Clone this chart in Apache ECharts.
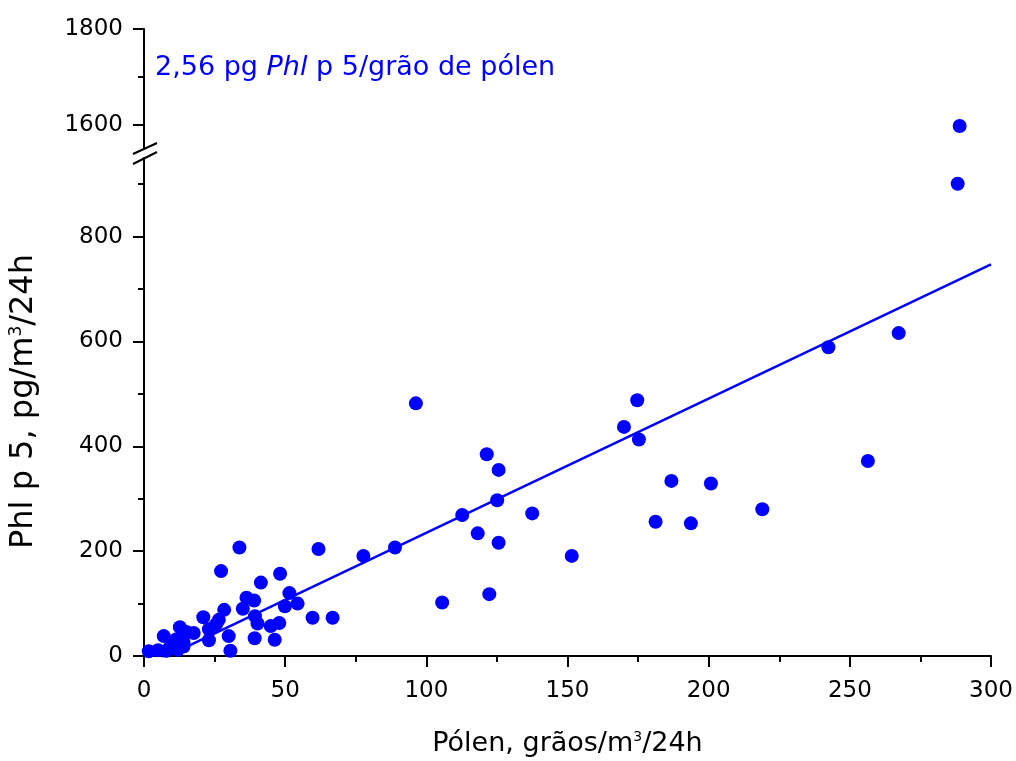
<!DOCTYPE html>
<html>
<head>
<meta charset="utf-8">
<title>Phl p 5 / pólen</title>
<script src="https://cdn.jsdelivr.net/npm/echarts@6.0.0/dist/echarts.min.js"></script>
<style>
html, body { margin: 0; padding: 0; background: #fff; }
#main { width: 1016px; height: 761px; }
</style>
</head>
<body>
<div id="main"></div>
<script>
// valores: pólen (grãos/m3/24h) e Phl p 5 (pg/m3/24h)
var polen = [1.7, 5, 8, 9, 12, 14, 10, 11.5, 14, 7,
    12.7, 15, 17.6, 21, 23, 23, 25.5, 26.5, 28.4, 30,
    30.6, 35, 36.3, 39, 39.3, 40.2, 41.4, 44.9, 47.9, 39.2,
    46.3, 48.2, 49.9, 51.5, 54.4, 59.7, 66.8, 33.8, 27.3, 61.8,
    77.7, 88.9, 96.3, 105.6, 112.7, 118.2, 121.4, 122.3, 125.1, 125.6,
    125.6, 137.5, 151.5, 170, 174.7, 175.3, 181.2, 186.8, 193.7, 200.8,
    219, 242.4, 256.4, 267.3, 288.2, 288.9];
var phl = [9, 11, 10, 15, 12, 18, 24, 32, 27, 38,
    55, 46, 44, 74, 51, 30, 60, 69, 88, 38,
    10, 90, 111, 106, 76, 62, 140, 57, 63, 34,
    31, 157, 95, 120, 100, 73, 73, 207, 162, 204,
    191, 207, 482, 102, 269, 234, 385, 118, 297, 355,
    216, 272, 191, 437, 488, 413, 256, 334, 253, 329,
    280, 589, 372, 616, 901, 1598];

// recta de regressão
var fitSlope = 2.56;
var fitIntercept = -21;
var fitX = [0, 300];

// eixos
var xRange = [0, 300];
var xStep = 50;
var yBreak = [950, 1550];        // corte do eixo y
var yTop = 1800;
var yTicksLow = [0, 200, 400, 600, 800];
var yMinorLow = [100, 300, 500, 700, 900];
var yTicksHigh = [1600, 1800];
var yMinorHigh = [1700];

// separar os pontos pelas duas partes do eixo
var lowPts = [], highPts = [];
for (var i = 0; i < polen.length; i++) {
    if (phl[i] > yBreak[0]) highPts.push([polen[i], phl[i]]);
    else lowPts.push([polen[i], phl[i]]);
}
var fitLine = fitX.map(function (x) { return [x, fitSlope * x + fitIntercept]; });

var blue = '#0000ff';
var black = '#000000';
var font = 'DejaVu Sans';
var tickLine = { color: black, width: 2 };

function mainY(grid, min, max, ticks, extra) {
    var ax = {
        type: 'value', gridIndex: grid, position: 'left', min: min, max: max,
        axisLine: { show: true, lineStyle: { color: black, width: 2 } },
        axisTick: { show: true, customValues: ticks, length: 11, lineStyle: tickLine },
        axisLabel: {
            show: true, customValues: ticks, margin: 21, color: black, fontSize: 23, fontFamily: font,
            formatter: function (v) { return String(v); }
        },
        splitLine: { show: false }
    };
    for (var k in extra) ax[k] = extra[k];
    return ax;
}
function minorY(grid, min, max, ticks) {
    return {
        type: 'value', gridIndex: grid, position: 'left', min: min, max: max,
        axisLine: { show: false },
        axisTick: { show: true, customValues: ticks, length: 6, lineStyle: tickLine },
        axisLabel: { show: false },
        splitLine: { show: false }
    };
}

var myChart = echarts.init(document.getElementById('main'));
var option = {
    backgroundColor: '#ffffff',
    animation: false,
    title: {
        left: 155, top: 54, padding: 0,
        text: '{n|2,56 pg }{i|Phl}{n| p 5/grão de pólen}',
        textStyle: {
            fontWeight: 'normal',
            rich: {
                n: { color: blue, fontSize: 27, fontFamily: font, fontWeight: 'normal' },
                i: { color: blue, fontSize: 27, fontFamily: font, fontWeight: 'normal', fontStyle: 'italic' }
            }
        }
    },
    grid: [
        { left: 144, right: 25, top: 29, height: 120, containLabel: false, outerBoundsMode: 'none' },
        { left: 144, right: 25, top: 158, bottom: 105, containLabel: false, outerBoundsMode: 'none' }
    ],
    xAxis: [
        { type: 'value', gridIndex: 0, min: xRange[0], max: xRange[1], interval: xStep, show: false },
        {
            type: 'value', gridIndex: 1, min: xRange[0], max: xRange[1], interval: xStep,
            axisLine: { show: true, onZero: false, lineStyle: { color: black, width: 2 } },
            axisTick: { show: true, length: 11, lineStyle: tickLine },
            minorTick: { show: true, splitNumber: 2, length: 6, lineStyle: tickLine },
            axisLabel: { margin: 24, color: black, fontSize: 23, fontFamily: font },
            splitLine: { show: false },
            name: 'Pólen, grãos/m{s|3}/24h',
            nameLocation: 'middle', nameGap: 74,
            nameTextStyle: {
                color: black, fontSize: 27, fontFamily: font,
                rich: { s: { color: black, fontSize: 14, fontFamily: font, verticalAlign: 'top' } }
            }
        }
    ],
    yAxis: [
        mainY(0, yBreak[1], yTop, yTicksHigh, {}),
        minorY(0, yBreak[1], yTop, yMinorHigh),
        mainY(1, 0, yBreak[0], yTicksLow, {
            name: 'Phl p 5, pg/m{s|3}/24h',
            nameLocation: 'middle', nameGap: 104,
            nameTextStyle: {
                color: black, fontSize: 32, fontFamily: font, padding: [0, 0, 0, 11],
                rich: { s: { color: black, fontSize: 17, fontFamily: font, verticalAlign: 'top' } }
            }
        }),
        minorY(1, 0, yBreak[0], yMinorLow)
    ],
    series: [
        {
            type: 'line', xAxisIndex: 1, yAxisIndex: 2, data: fitLine,
            symbol: 'none', clip: true, lineStyle: { color: blue, width: 2.5 }, z: 3
        },
        {
            type: 'scatter', xAxisIndex: 1, yAxisIndex: 2, data: lowPts,
            symbolSize: 14, clip: false, itemStyle: { color: blue, opacity: 1 }, z: 4
        },
        {
            type: 'scatter', xAxisIndex: 0, yAxisIndex: 0, data: highPts,
            symbolSize: 14, clip: false, itemStyle: { color: blue, opacity: 1 }, z: 4
        }
    ],
    // marcas do corte do eixo
    graphic: [
        { type: 'line', shape: { x1: 133, y1: 154, x2: 157, y2: 143 }, style: { stroke: black, lineWidth: 2 } },
        { type: 'line', shape: { x1: 133, y1: 164, x2: 157, y2: 152 }, style: { stroke: black, lineWidth: 2 } }
    ]
};
myChart.setOption(option);
</script>
</body>
</html>
